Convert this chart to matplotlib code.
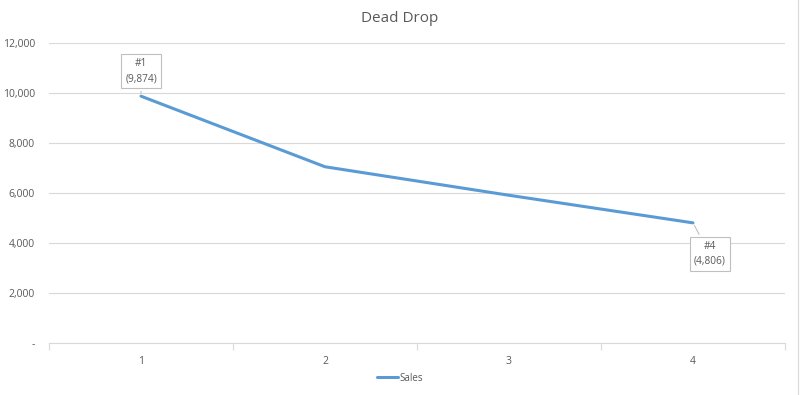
import matplotlib
matplotlib.use("Agg")
import matplotlib.pyplot as plt
from matplotlib.ticker import FuncFormatter

categories = [1, 2, 3, 4]
sales = [9874, 7050, 5910, 4806]
y_ticks = [0, 2000, 4000, 6000, 8000, 10000, 12000]
title = "Dead Drop"
series_name = "Sales"

plt.rcParams['font.family'] = ['Open Sans', 'DejaVu Sans']
txt = '#595959'
grid = '#d9d9d9'
line_c = '#5b9bd5'

fig = plt.figure(figsize=(8, 3.95), dpi=100)
ax = fig.add_axes([0.06125, 0.1316, 0.92, 0.7595])

x = list(range(len(categories)))
ax.plot(x, sales, color=line_c, lw=2.2, solid_capstyle='round', label=series_name, zorder=3)

ax.set_xlim(-0.5, len(categories) - 0.5)
ax.set_ylim(0, 12000)
ax.set_yticks(y_ticks)
ax.yaxis.set_major_formatter(FuncFormatter(lambda v, p: '-' if v == 0 else f'{int(v):,}'))
ax.set_xticks(x)
ax.set_xticklabels([str(c) for c in categories])
ax.set_xticks([i - 0.5 for i in range(len(categories) + 1)], minor=True)

ax.grid(axis='y', color=grid, lw=0.8)
ax.set_axisbelow(True)
for s in ['top', 'right', 'left']:
    ax.spines[s].set_visible(False)
ax.spines['bottom'].set_color(grid)
ax.spines['bottom'].set_linewidth(0.8)
ax.tick_params(axis='y', length=0, colors=txt, labelsize=7.5, pad=10)
ax.tick_params(axis='x', which='major', length=0, colors=txt, labelsize=7.5, pad=9)
ax.tick_params(axis='x', which='minor', length=5, color=grid, width=0.8)

fig.text(0.5, 0.952, title, color=txt, fontsize=11, ha='center', va='center')

bbox = dict(boxstyle='square,pad=0.4', fc='white', ec='#bfbfbf', lw=0.8)
ap = dict(arrowstyle='-', color='#bfbfbf', lw=0.8)
i0 = 0
ax.annotate(f'#{categories[i0]}\n({sales[i0]:,})', xy=(x[i0], sales[i0]), xytext=(x[i0], 10870),
            ha='center', va='center', fontsize=7.3, color=txt, bbox=bbox, arrowprops=ap,
            linespacing=1.45)
i3 = 3
ax.annotate(f'#{categories[i3]}\n({sales[i3]:,})', xy=(x[i3], sales[i3]), xytext=(x[i3] + 0.09, 3560),
            ha='center', va='center', fontsize=7.3, color=txt, bbox=bbox, arrowprops=ap,
            linespacing=1.45)

leg = fig.legend(loc='center', bbox_to_anchor=(0.5, 0.043), frameon=False, fontsize=7,
                 handlelength=2.2, handletextpad=0.2)
for t in leg.get_texts():
    t.set_color(txt)

# sheet remnants: right edge line
fig.add_artist(plt.Line2D([0.997, 0.997], [0, 1], color='#d9d9d9', lw=0.8))

fig.savefig('out.png', dpi=100, facecolor='white')
